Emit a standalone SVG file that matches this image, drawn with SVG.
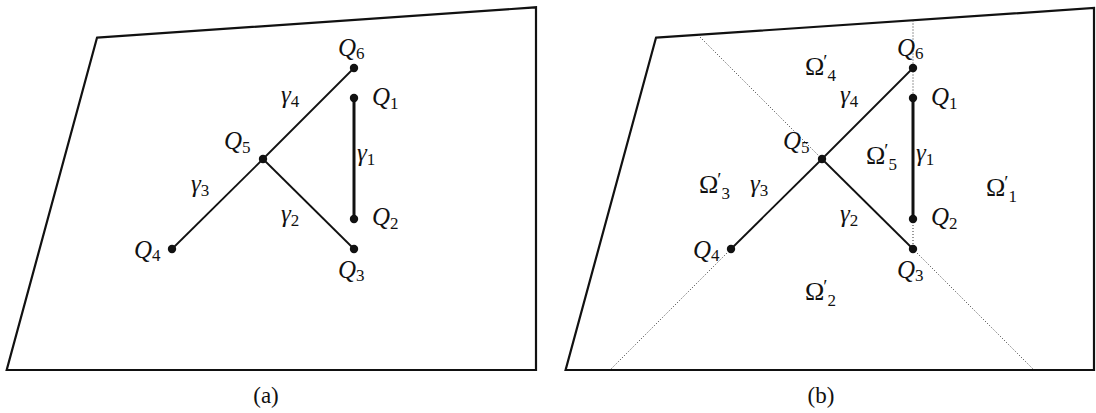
<svg xmlns="http://www.w3.org/2000/svg" width="1096" height="413" viewBox="0 0 1096 413">
<style>
.frame{fill:none;stroke:#111;stroke-width:2.2;stroke-linejoin:miter}
.edge{stroke:#111;stroke-width:1.8;fill:none}
.thick{stroke:#111;stroke-width:3;fill:none}
.dot{stroke:#333;stroke-width:1;stroke-dasharray:1 2;fill:none}
.pt{fill:#111}
text{font-family:"Liberation Serif","DejaVu Serif",serif;fill:#111}
.q{font-size:25px;font-style:italic}
.s{font-size:17px;font-style:normal}
.p{font-size:19px;font-style:normal}
.om{font-size:26px}
.cap{font-size:23px;text-anchor:middle}
</style>
<rect width="1096" height="413" fill="#fff"/>
<g id="panel-a">
  <polygon class="frame" points="97,37.7 536,7.3 536,370 6.7,370"/>
  <g id="connectors-a">
    <line class="edge" x1="263" y1="159" x2="354" y2="68"/>
    <line class="edge" x1="263" y1="159" x2="172" y2="249"/>
    <line class="edge" x1="263" y1="159" x2="354" y2="249"/>
    <line class="thick" x1="354" y1="98" x2="354" y2="219"/>
    <text class="q" x="281" y="103">γ<tspan class="s" dy="4">4</tspan></text>
    <text class="q" x="357" y="161">γ<tspan class="s" dy="4">1</tspan></text>
    <text class="q" x="191" y="192">γ<tspan class="s" dy="4">3</tspan></text>
    <text class="q" x="281" y="222">γ<tspan class="s" dy="4">2</tspan></text>
  </g>
  <g id="a-Q1"><circle class="pt" cx="354" cy="98" r="4.2"/><text class="q" x="372" y="105">Q<tspan class="s" dy="4">1</tspan></text></g>
  <g id="a-Q2"><circle class="pt" cx="354" cy="219" r="4.2"/><text class="q" x="372" y="225">Q<tspan class="s" dy="4">2</tspan></text></g>
  <g id="a-Q3"><circle class="pt" cx="354" cy="249" r="4.2"/><text class="q" x="338" y="278">Q<tspan class="s" dy="3">3</tspan></text></g>
  <g id="a-Q4"><circle class="pt" cx="172" cy="249" r="4.2"/><text class="q" x="134" y="258">Q<tspan class="s" dy="3">4</tspan></text></g>
  <g id="a-Q5"><circle class="pt" cx="263" cy="159" r="4.2"/><text class="q" x="224" y="149">Q<tspan class="s" dy="4">5</tspan></text></g>
  <g id="a-Q6"><circle class="pt" cx="354" cy="68" r="4.2"/><text class="q" x="338" y="56">Q<tspan class="s" dy="3">6</tspan></text></g>
  <text class="cap" x="266" y="403">(a)</text>
</g>
<g id="panel-b">
  <polygon class="frame" points="656,37.7 1094,8 1094,370 565.6,370"/>
  <g id="connectors-b">
    <line class="dot" x1="698" y1="35" x2="822" y2="159"/>
    <line class="dot" x1="913" y1="20.5" x2="913" y2="98"/>
    <line class="dot" x1="913" y1="219" x2="913" y2="249"/>
    <line class="dot" x1="913" y1="249" x2="1034" y2="370"/>
    <line class="dot" x1="731" y1="249" x2="610" y2="370"/>
    <line class="edge" x1="822" y1="159" x2="913" y2="68"/>
    <line class="edge" x1="822" y1="159" x2="731" y2="249"/>
    <line class="edge" x1="822" y1="159" x2="913" y2="249"/>
    <line class="thick" x1="913" y1="98" x2="913" y2="219"/>
    <text class="q" x="840" y="103">γ<tspan class="s" dy="4">4</tspan></text>
    <text class="q" x="916" y="161">γ<tspan class="s" dy="4">1</tspan></text>
    <text class="q" x="750" y="192">γ<tspan class="s" dy="4">3</tspan></text>
    <text class="q" x="840" y="222">γ<tspan class="s" dy="4">2</tspan></text>
  </g>
  <g id="b-Q1"><circle class="pt" cx="913" cy="98" r="4.2"/><text class="q" x="931" y="105">Q<tspan class="s" dy="4">1</tspan></text></g>
  <g id="b-Q2"><circle class="pt" cx="913" cy="219" r="4.2"/><text class="q" x="931" y="225">Q<tspan class="s" dy="4">2</tspan></text></g>
  <g id="b-Q3"><circle class="pt" cx="913" cy="249" r="4.2"/><text class="q" x="897" y="278">Q<tspan class="s" dy="3">3</tspan></text></g>
  <g id="b-Q4"><circle class="pt" cx="731" cy="249" r="4.2"/><text class="q" x="693" y="258">Q<tspan class="s" dy="3">4</tspan></text></g>
  <g id="b-Q5"><circle class="pt" cx="822" cy="159" r="4.2"/><text class="q" x="783" y="149">Q<tspan class="s" dy="4">5</tspan></text></g>
  <g id="b-Q6"><circle class="pt" cx="913" cy="68" r="4.2"/><text class="q" x="897" y="56">Q<tspan class="s" dy="3">6</tspan></text></g>
  <g id="regions">
    <text class="om" x="805" y="75">Ω<tspan class="p" dx="-1" dy="-7">′</tspan><tspan class="s" dy="13">4</tspan></text>
    <text class="om" x="866" y="164">Ω<tspan class="p" dx="-1" dy="-7">′</tspan><tspan class="s" dy="13">5</tspan></text>
    <text class="om" x="699" y="193">Ω<tspan class="p" dx="-1" dy="-7">′</tspan><tspan class="s" dy="13">3</tspan></text>
    <text class="om" x="986" y="196">Ω<tspan class="p" dx="-1" dy="-7">′</tspan><tspan class="s" dy="13">1</tspan></text>
    <text class="om" x="805" y="300">Ω<tspan class="p" dx="-1" dy="-7">′</tspan><tspan class="s" dy="13">2</tspan></text>
  </g>
  <text class="cap" x="821" y="403">(b)</text>
</g>
</svg>
